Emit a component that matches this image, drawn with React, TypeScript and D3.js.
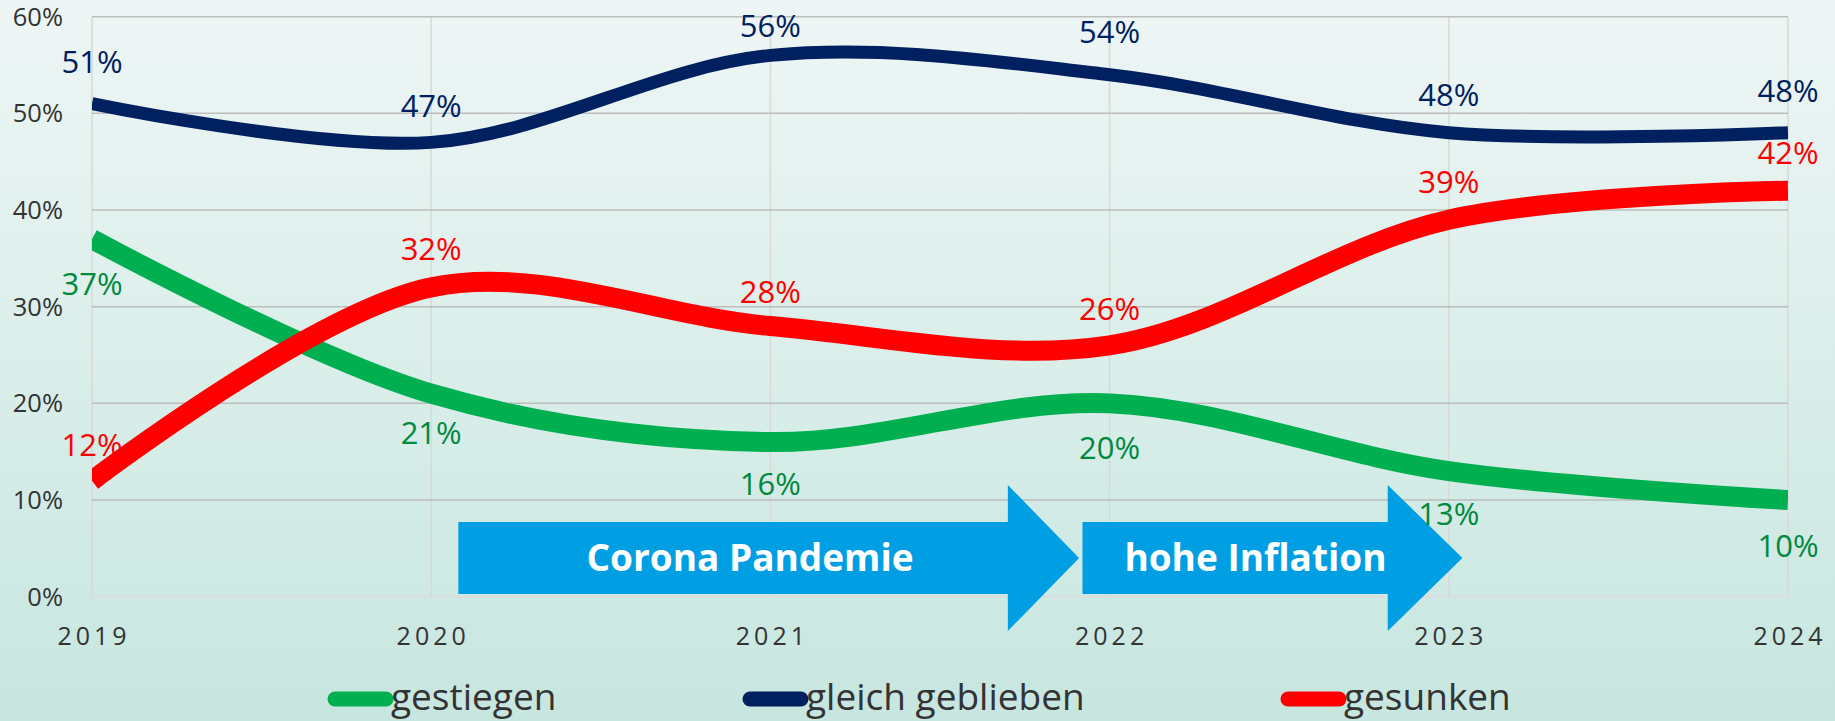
import React from "react";
import * as d3 from "d3";

const years = [2019, 2020, 2021, 2022, 2023, 2024];
const gestiegen = [37, 21, 16, 20, 13, 10];
const gleichGeblieben = [51, 47, 56, 54, 48, 48];
const gesunken = [12, 32, 28, 26, 39, 42];
const yTicks = [0, 10, 20, 30, 40, 50, 60];

// labels were dragged a bit by hand in the original
const nudgeGestiegen = [2, -4, -1, 2, 0, 3];
const nudgeGleich = [-4, 2, 9, -5, 0, -4];
const nudgeGesunken = [2, 0, 4, 2, 0, 0];

const seriesList = [
  { name: "gestiegen", values: gestiegen, nudge: nudgeGestiegen, line: "#00b050", label: "#00893f", width: 20, below: true },
  { name: "gleich geblieben", values: gleichGeblieben, nudge: nudgeGleich, line: "#002060", label: "#002060", width: 13, below: false },
  { name: "gesunken", values: gesunken, nudge: nudgeGesunken, line: "#ff0000", label: "#ff0000", width: 20, below: false },
];

// arrows in year units
const arrows = [
  { text: "Corona Pandemie", start: 2020.08, bodyEnd: 2021.7, tip: 2021.91, textAt: 2020.94 },
  { text: "hohe Inflation", start: 2021.92, bodyEnd: 2022.82, tip: 2023.04, textAt: 2022.43 },
];

const W = 1835;
const H = 721;
const font = "'Open Sans', 'Noto Sans', sans-serif";

export default function App() {
  const x = d3.scaleLinear().domain([2019, 2024]).range([92, 1788]);
  const y = d3.scaleLinear().domain([0, 60]).range([596.7, 16.7]);

  const line = d3
    .line<number>()
    .x((d, i) => x(years[i]))
    .y((d) => y(d))
    .curve(d3.curveCatmullRom.alpha(0.5));

  return (
    <svg width={W} height={H} style={{ position: "absolute", left: 0, top: 0, display: "block" }} fontFamily={font}>
      <defs>
        <linearGradient id="bg" x1="0" y1="0" x2="0" y2="1">
          <stop offset="0" stopColor="#eef6f5" />
          <stop offset="1" stopColor="#c7e6df" />
        </linearGradient>
        <clipPath id="plot">
          <rect x={x(2019)} y={0} width={x(2024) - x(2019)} height={H} />
        </clipPath>
      </defs>
      <rect width={W} height={H} fill="url(#bg)" />

      {/* vertical grid */}
      {years.map((yr) => (
        <line key={"v" + yr} x1={x(yr)} x2={x(yr)} y1={y(60)} y2={y(0)} stroke="#d9d9d9" strokeWidth={1.5} />
      ))}
      {/* horizontal grid */}
      {yTicks.map((t) => (
        <line
          key={"h" + t}
          x1={x(2019)}
          x2={x(2024)}
          y1={y(t)}
          y2={y(t)}
          stroke={t === 0 ? "#dcdcdc" : "#bdbdbd"}
          strokeWidth={t === 0 ? 2 : 1.5}
        />
      ))}

      {yTicks.map((t) => (
        <text key={"yl" + t} x={63} y={y(t)} dy="0.35em" textAnchor="end" fontSize={25.5} fill="#333">
          {t}%
        </text>
      ))}
      {years.map((yr) => (
        <text key={"xl" + yr} x={x(yr) + 2} y={645} textAnchor="middle" fontSize={25} letterSpacing={4} fill="#333">
          {yr}
        </text>
      ))}

      {/* arrows */}
      {arrows.map((a) => {
        const x0 = x(a.start);
        const x1 = x(a.bodyEnd);
        const x2 = x(a.tip);
        const pts = [
          [x0, 522],
          [x1, 522],
          [x1, 485],
          [x2, 558],
          [x1, 631],
          [x1, 594],
          [x0, 594],
        ];
        return (
          <g key={a.text}>
            <polygon points={pts.map((p) => p.join(",")).join(" ")} fill="#009fe3" />
            <text x={x(a.textAt)} y={558} dy="0.35em" textAnchor="middle" fontSize={37} fontWeight="bold" fill="#fff">
              {a.text}
            </text>
          </g>
        );
      })}

      {/* lines */}
      <g clipPath="url(#plot)">
        {seriesList.map((s) => (
          <path
            key={s.name}
            d={line(s.values) || ""}
            fill="none"
            stroke={s.line}
            strokeWidth={s.width}
            strokeLinejoin="round"
          />
        ))}
      </g>

      {/* data labels */}
      {seriesList.map((s) =>
        s.values.map((v, i) => (
          <text
            key={s.name + i}
            x={x(years[i])}
            y={y(v) + (s.below ? 43 : -38) + s.nudge[i]}
            dy="0.35em"
            textAnchor="middle"
            fontSize={31}
            fill={s.label}
          >
            {v}%
          </text>
        ))
      )}

      {/* legend */}
      {seriesList.map((s, i) => {
        const lx = [328, 743, 1281][i];
        return (
          <g key={"lg" + s.name}>
            <line x1={lx + 7} x2={lx + 58} y1={699} y2={699} stroke={s.line} strokeWidth={15} strokeLinecap="round" />
            <text x={lx + 63} y={710} fontSize={37} fill="#333">
              {s.name}
            </text>
          </g>
        );
      })}
    </svg>
  );
}
